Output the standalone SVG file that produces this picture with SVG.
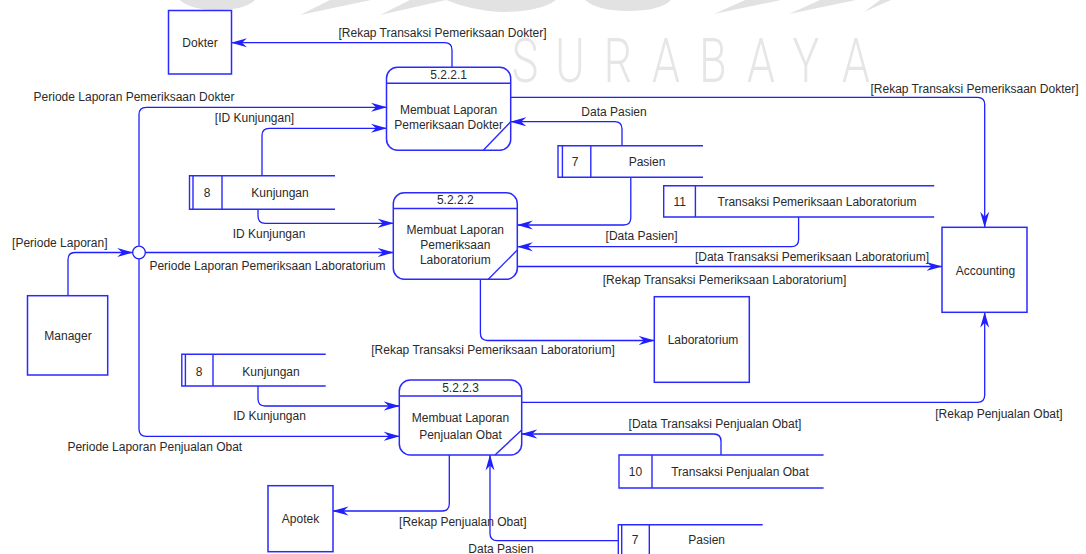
<svg xmlns="http://www.w3.org/2000/svg" width="1086" height="554" viewBox="0 0 1086 554">
<style>
.ln{fill:none;stroke:#1f1fff;stroke-width:1.3}
.bx{fill:#fff;stroke:#2a2aff;stroke-width:1.5}
.st{fill:none;stroke:#2a2aff;stroke-width:1.4}
text{font-family:"Liberation Sans",Arial,sans-serif;font-size:12px;fill:#2a2a2a}
.c{text-anchor:middle}
.wm{font-family:Roboto,"Liberation Sans",sans-serif;font-weight:300;font-size:62px;fill:#e6e6e6;text-anchor:middle}
.blob{fill:#e2e2e2}
</style>
<defs>
<marker id="ar" markerUnits="userSpaceOnUse" markerWidth="16" markerHeight="10" viewBox="0 0 16 10" refX="15.5" refY="5" orient="auto">
<path d="M0,0.5 L16,5 L0,9.5 L5,5 Z" fill="#1f1fff"/>
</marker>
</defs>
<rect width="1086" height="554" fill="#fff"/>
<g id="watermark">
<path class="blob" d="M180,0 H255 Q245,10 217,10 Q190,10 180,0 Z"/>
<polygon class="blob" points="300,15 330,0 371,0"/>
<polygon class="blob" points="380,15 410,0 446,0"/>
<path class="blob" d="M446,0 H556 Q540,12 500,12 Q470,10 446,0 Z"/>
<path class="blob" d="M585,0 H671 Q660,11 628,11 Q598,11 585,0 Z"/>
<polygon class="blob" points="714,14 745,0 781,0"/>
<polygon class="blob" points="789,14 820,0 856,0"/>
<polygon class="blob" points="864,12 880,0 891,0"/>
<text class="wm" transform="translate(525,82) scale(0.72,1)">S</text>
<text class="wm" transform="translate(570,82) scale(0.72,1)">U</text>
<text class="wm" transform="translate(618,82) scale(0.72,1)">R</text>
<text class="wm" transform="translate(666,82) scale(0.72,1)">A</text>
<text class="wm" transform="translate(713,82) scale(0.72,1)">B</text>
<text class="wm" transform="translate(761,82) scale(0.72,1)">A</text>
<text class="wm" transform="translate(806,82) scale(0.72,1)">Y</text>
<text class="wm" transform="translate(856,82) scale(0.72,1)">A</text>
</g>
<g id="connectors">
<path class="ln" marker-end="url(#ar)" d="M452,67.3 V50 Q452,42.7 444.7,42.7 H231.5"/>
<path class="ln" marker-end="url(#ar)" d="M510.7,97.3 H977.5 Q984.7,97.3 984.7,104.5 V227.3"/>
<path class="ln" marker-end="url(#ar)" d="M139,245.7 V114.5 Q139,107.3 146.2,107.3 H386.5"/>
<path class="ln" marker-end="url(#ar)" d="M262,175.7 V135.5 Q262,128.3 269.2,128.3 H386.5"/>
<path class="ln" marker-end="url(#ar)" d="M622,145.7 V129 Q622,121.7 614.7,121.7 H510.7"/>
<path class="ln" marker-end="url(#ar)" d="M258,209.3 V216 Q258,223.3 265.3,223.3 H393.3"/>
<path class="ln" marker-end="url(#ar)" d="M145.3,252.5 H393.3"/>
<path class="ln" marker-end="url(#ar)" d="M68,295.7 V259.7 Q68,252.5 75.2,252.5 H132.7"/>
<path class="ln" marker-end="url(#ar)" d="M630.8,177.3 V217.8 Q630.8,225 623.6,225 H517.3"/>
<path class="ln" marker-end="url(#ar)" d="M798.6,217 V239.5 Q798.6,246.7 791.4,246.7 H517.3"/>
<path class="ln" marker-end="url(#ar)" d="M517.3,266.5 H942"/>
<path class="ln" marker-end="url(#ar)" d="M480.4,279.3 V333.3 Q480.4,340.5 487.6,340.5 H654.3"/>
<path class="ln" marker-end="url(#ar)" d="M139,258.8 V429 Q139,436.3 146.2,436.3 H399.3"/>
<path class="ln" marker-end="url(#ar)" d="M258,386 V398.8 Q258,406 265.2,406 H399.3"/>
<path class="ln" marker-end="url(#ar)" d="M521.7,402.3 H977.5 Q984.7,402.3 984.7,395 V312.3"/>
<path class="ln" marker-end="url(#ar)" d="M721,455 V441.2 Q721,434 713.8,434 H521.7"/>
<path class="ln" marker-end="url(#ar)" d="M449.3,455 V503.8 Q449.3,511 442.1,511 H333"/>
<path class="ln" marker-end="url(#ar)" d="M618.3,540.7 H497.2 Q490,540.7 490,533.5 V455"/>
<circle cx="139" cy="252.5" r="6.3" fill="#fff" stroke="#1f1fff" stroke-width="1.3"/>
<text class="c" x="442.5" y="37">[Rekap Transaksi Pemeriksaan Dokter]</text>
<text class="c" x="134" y="101">Periode Laporan Pemeriksaan Dokter</text>
<text class="c" x="254.5" y="122">[ID Kunjungan]</text>
<text class="c" x="614" y="116">Data Pasien</text>
<text class="c" x="974.5" y="92.5">[Rekap Transaksi Pemeriksaan Dokter]</text>
<text class="c" x="269" y="238">ID Kunjungan</text>
<text class="c" x="59.8" y="247">[Periode Laporan]</text>
<text class="c" x="267.5" y="270">Periode Laporan Pemeriksaan Laboratorium</text>
<text class="c" x="641.6" y="240">[Data Pasien]</text>
<text class="c" x="812" y="261">[Data Transaksi Pemeriksaan Laboratorium]</text>
<text class="c" x="724.5" y="283.5">[Rekap Transaksi Pemeriksaan Laboratorium]</text>
<text class="c" x="493" y="354">[Rekap Transaksi Pemeriksaan Laboratorium]</text>
<text class="c" x="269.5" y="420">ID Kunjungan</text>
<text class="c" x="154.8" y="451">Periode Laporan Penjualan Obat</text>
<text class="c" x="715" y="428">[Data Transaksi Penjualan Obat]</text>
<text class="c" x="999" y="417.5">[Rekap Penjualan Obat]</text>
<text class="c" x="462.8" y="526">[Rekap Penjualan Obat]</text>
<text class="c" x="501" y="553">Data Pasien</text>
</g>
<g id="dokter">
<rect class="bx" x="168.5" y="10.5" width="63" height="63.5"/>
<text class="c" x="200" y="47">Dokter</text>
</g>
<g id="manager">
<rect class="bx" x="27.5" y="295.7" width="80.2" height="79.3"/>
<text class="c" x="68" y="340">Manager</text>
</g>
<g id="accounting">
<rect class="bx" x="942" y="227.3" width="85" height="85"/>
<text class="c" x="985.5" y="275">Accounting</text>
</g>
<g id="laboratorium">
<rect class="bx" x="654.3" y="296.7" width="95" height="85.6"/>
<text class="c" x="703" y="344">Laboratorium</text>
</g>
<g id="apotek">
<rect class="bx" x="268" y="485.7" width="65" height="66"/>
<text class="c" x="300.5" y="523">Apotek</text>
</g>
<g id="p5221">
<rect class="bx" x="386.5" y="67.3" width="124.2" height="82.9" rx="11"/>
<line class="st" x1="386.5" y1="83.3" x2="510.7" y2="83.3"/>
<line class="st" x1="483.3" y1="150.2" x2="510.7" y2="121.7"/>
<text class="c" x="448.6" y="79.3">5.2.2.1</text>
<text class="c" x="448.6" y="114.3">Membuat Laporan</text>
<text class="c" x="448.6" y="129.3">Pemeriksaan Dokter</text>
</g>
<g id="p5222">
<rect class="bx" x="393.3" y="192.7" width="124" height="86.6" rx="11"/>
<line class="st" x1="393.3" y1="208.5" x2="517.3" y2="208.5"/>
<line class="st" x1="488.3" y1="279.3" x2="517.3" y2="250"/>
<text class="c" x="455.3" y="204.3">5.2.2.2</text>
<text class="c" x="455.3" y="234.3">Membuat Laporan</text>
<text class="c" x="455.3" y="249.3">Pemeriksaan</text>
<text class="c" x="455.3" y="264.3">Laboratorium</text>
</g>
<g id="p5223">
<rect class="bx" x="399.3" y="380" width="122.4" height="75" rx="11"/>
<line class="st" x1="399.3" y1="396" x2="521.7" y2="396"/>
<line class="st" x1="495" y1="455" x2="521.7" y2="430"/>
<text class="c" x="460.5" y="392.3">5.2.2.3</text>
<text class="c" x="460.5" y="422.3">Membuat Laporan</text>
<text class="c" x="460.5" y="438.5">Penjualan Obat</text>
</g>
<g id="store-kunjungan-1">
<path class="st" d="M335,175.7 H189.5 V209.3 H335 M193,175.7 V209.3 M222,175.7 V209.3"/>
<text class="c" x="207" y="197.3">8</text>
<text class="c" x="280" y="197.3">Kunjungan</text>
</g>
<g id="store-pasien-1">
<path class="st" d="M703,145.7 H558 V177.3 H703 M562.4,145.7 V177.3 M590.8,145.7 V177.3"/>
<text class="c" x="575" y="166.3">7</text>
<text class="c" x="647" y="166.3">Pasien</text>
</g>
<g id="store-transaksi-lab">
<path class="st" d="M934.2,185.7 H663.7 V217 H934.2 M695.4,185.7 V217"/>
<text class="c" x="679.7" y="206.3">11</text>
<text class="c" x="817" y="206.3">Transaksi Pemeriksaan Laboratorium</text>
</g>
<g id="store-kunjungan-2">
<path class="st" d="M325.7,354.3 H181.8 V386 H325.7 M185.4,354.3 V386 M213,354.3 V386"/>
<text class="c" x="199" y="376.3">8</text>
<text class="c" x="271" y="376.3">Kunjungan</text>
</g>
<g id="store-transaksi-obat">
<path class="st" d="M823.6,455 H619 V488 H823.6 M652,455 V488"/>
<text class="c" x="635.5" y="476">10</text>
<text class="c" x="740" y="476">Transaksi Penjualan Obat</text>
</g>
<g id="store-pasien-2">
<path class="st" d="M762.7,524.7 H618.3 V560 M621.7,524.7 V560 M649.3,524.7 V560"/>
<text class="c" x="635" y="544.3">7</text>
<text class="c" x="706.7" y="544.3">Pasien</text>
</g>
</svg>
